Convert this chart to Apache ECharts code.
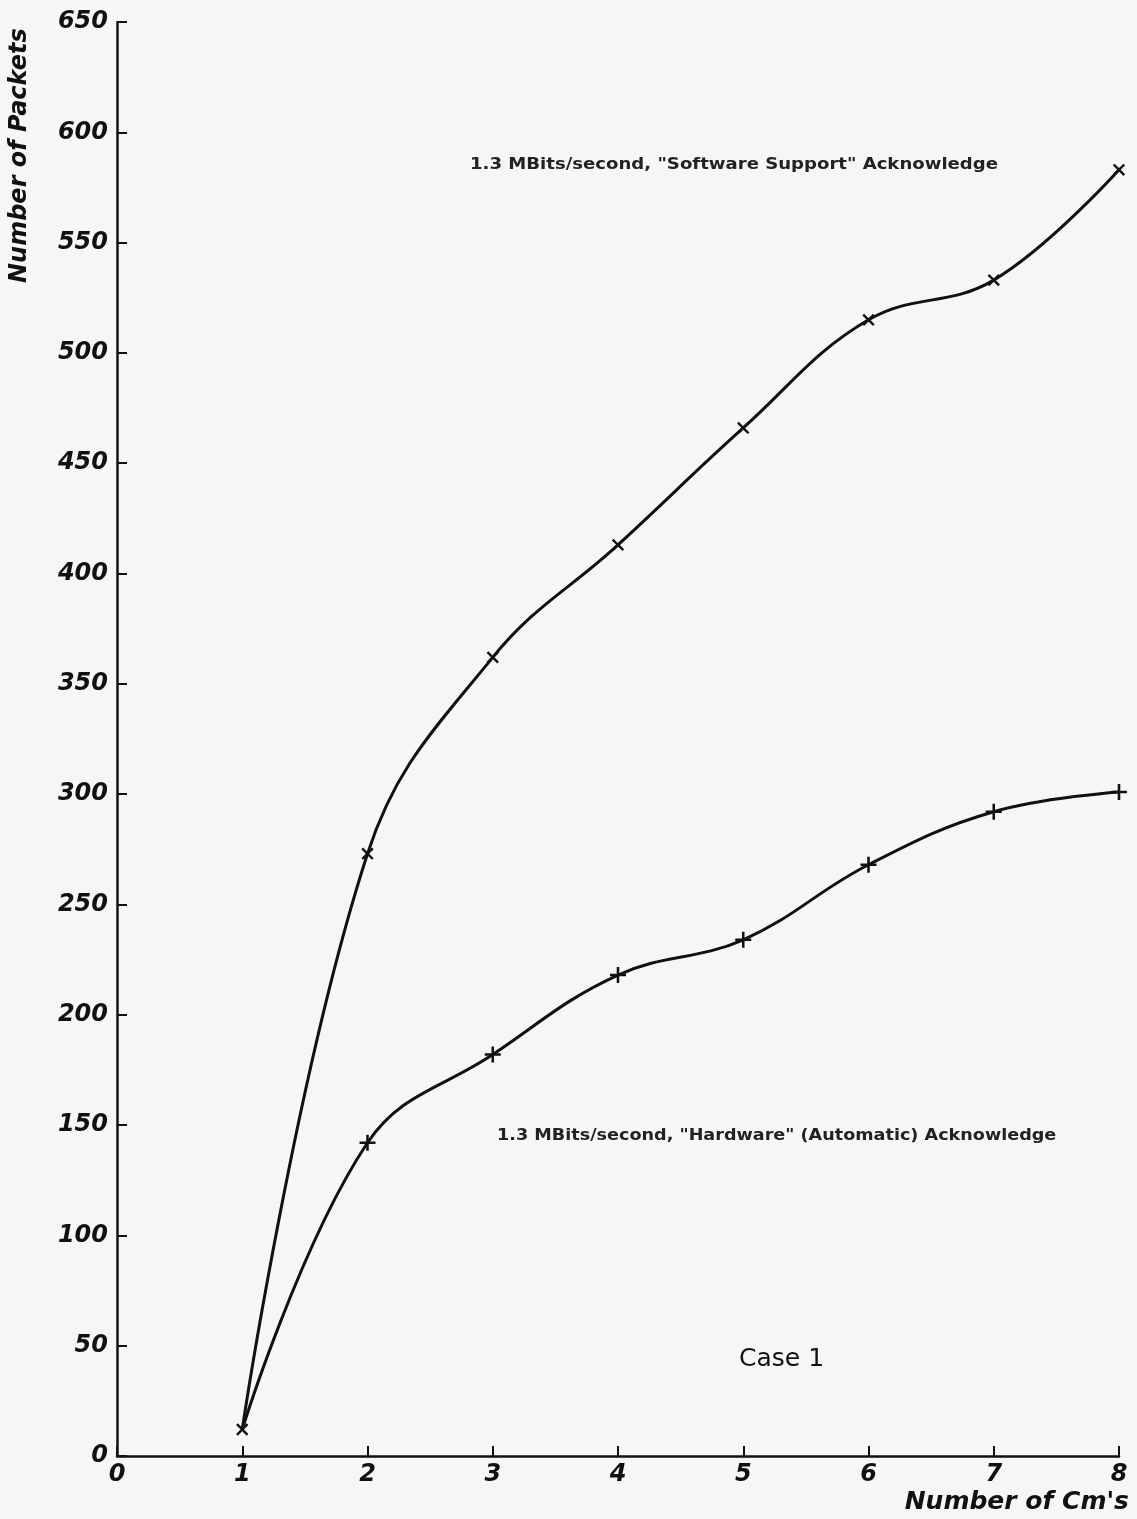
<!DOCTYPE html>
<html><head><meta charset="utf-8">
<script src="https://cdn.jsdelivr.net/npm/echarts@6/dist/echarts.min.js"></script>
<style>html,body{margin:0;padding:0;background:#f6f6f4;}#c{width:1137px;height:1519px;}</style>
</head><body><div id="c"></div>
<script>
const cms = [1, 2, 3, 4, 5, 6, 7, 8];
const softwareAck = [12, 273, 362, 413, 466, 515, 533, 583];
const hardwareAck = [12, 142, 182, 218, 234, 268, 292, 301];
const xTicks = [0, 1, 2, 3, 4, 5, 6, 7, 8];
const yTicks = [0, 50, 100, 150, 200, 250, 300, 350, 400, 450, 500, 550, 600, 650];

const plusPath = 'path://M4.2,0H5.8V4.2H10V5.8H5.8V10H4.2V5.8H0V4.2H4.2Z';
const chart = echarts.init(document.getElementById('c'));
const lab = {fontFamily:'DejaVu Sans', fontWeight:'bold', fontStyle:'italic', fontSize:24, color:'#111'};
chart.setOption({
  backgroundColor:'#f6f6f4',
  animation:false,
  grid:{left:117, right:18, top:22, bottom:63},
  xAxis:{type:'value', min:0, max:8, interval:1,
    axisLine:{lineStyle:{color:'#111', width:2.5}},
    axisTick:{inside:true, length:10, lineStyle:{color:'#111', width:2}},
    axisLabel:Object.assign({margin:7}, lab),
    splitLine:{show:false}},
  yAxis:{type:'value', min:0, max:650, interval:50,
    axisLine:{show:true, lineStyle:{color:'#111', width:2.5}},
    axisTick:{show:true, inside:true, length:10, lineStyle:{color:'#111', width:2}},
    axisLabel:Object.assign({margin:9}, lab),
    splitLine:{show:false}},
  series:[
    {type:'line', smooth:0.4, data:cms.map((x,i)=>[x, softwareAck[i]]),
     lineStyle:{color:'#111', width:3}, symbol:plusPath, symbolSize:15, symbolRotate:45,
     itemStyle:{color:'#111'}, z:3},
    {type:'line', smooth:0.4,
     data:cms.map((x,i)=>i===0 ? {value:[x, hardwareAck[i]], symbol:'none'} : [x, hardwareAck[i]]),
     lineStyle:{color:'#111', width:3}, symbol:plusPath, symbolSize:16,
     itemStyle:{color:'#111'}, z:2}
  ],
  graphic:[
    {type:'text', x:8, y:283, rotation:Math.PI/2,
     style:{text:'Number of Packets', font:'italic bold 24px "DejaVu Sans"', fill:'#111', textAlign:'left', textVerticalAlign:'top'}},
    {type:'text', right:8, top:1490, style:{text:"Number of Cm's", font:'italic bold 25px "DejaVu Sans"', fill:'#111'}},
    {type:'text', x:470, y:157, scaleX:1.13, style:{text:'1.3 MBits/second, "Software Support" Acknowledge', font:'bold 16px "DejaVu Sans"', fill:'#222'}},
    {type:'text', x:497, y:1128, scaleX:1.1, style:{text:'1.3 MBits/second, "Hardware" (Automatic) Acknowledge', font:'bold 16px "DejaVu Sans"', fill:'#222'}},
    {type:'text', x:739, y:1347, style:{text:'Case 1', font:'25px "DejaVu Sans"', fill:'#111'}}
  ]
});
</script></body></html>
